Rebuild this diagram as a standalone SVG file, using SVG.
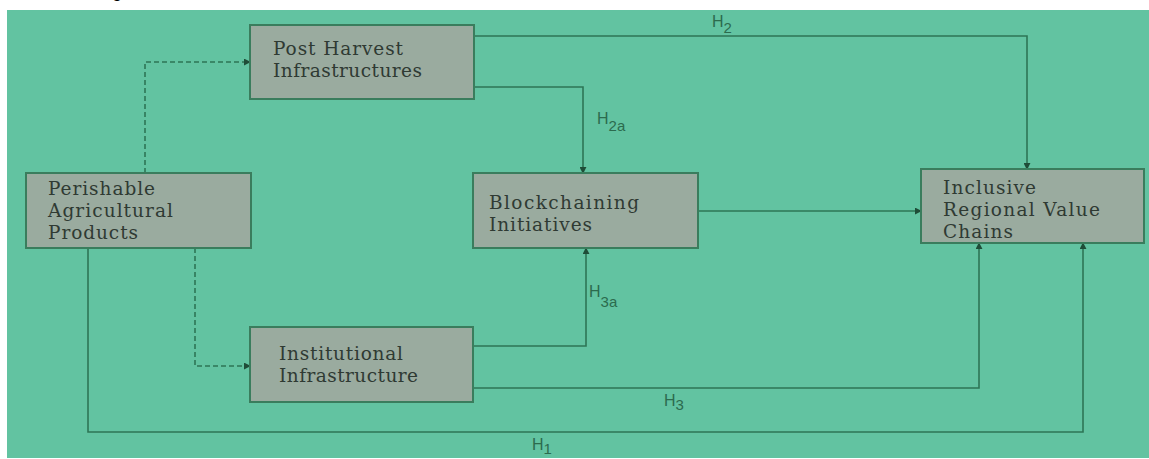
<svg xmlns="http://www.w3.org/2000/svg" width="1149" height="459" viewBox="0 0 1149 459">
<style>
.bg{fill:#62c3a1}
.box{fill:#9aab9f;stroke:#3a7d5d;stroke-width:2}
.t{font-family:"DejaVu Serif","Liberation Serif",serif;font-size:18.5px;fill:#2f3a33}
.c{fill:none;stroke:#2e7656;stroke-width:1.6}
.d{fill:none;stroke:#2e7656;stroke-width:1.6;stroke-dasharray:5 3}
.h{font-family:"Liberation Sans",Arial,sans-serif;font-size:16px;fill:#2c6b4e}
.s{font-size:15px}
.cap{font-family:"Liberation Sans",Arial,sans-serif;font-size:18px;fill:#000}
</style>
<defs>
<marker id="ar" viewBox="0 0 8 8" refX="7" refY="4" markerWidth="7" markerHeight="7" markerUnits="userSpaceOnUse" orient="auto">
<path d="M0,0 L8,4 L0,8 z" fill="#1f4d38"/>
</marker>
</defs>
<rect x="0" y="0" width="1149" height="459" fill="#ffffff"/>
<text class="cap" x="112" y="-3">g</text>
<rect class="bg" x="7" y="10" width="1142" height="448"/>
<g id="connectors">
<path class="d" d="M145,173 V62 H250" marker-end="url(#ar)"/>
<path class="d" d="M195,248 V366 H250" marker-end="url(#ar)"/>
<path class="c" d="M474,36 H1027 V169" marker-end="url(#ar)"/>
<path class="c" d="M474,87 H583 V173" marker-end="url(#ar)"/>
<path class="c" d="M698,211 H921" marker-end="url(#ar)"/>
<path class="c" d="M473,346 H586 V248" marker-end="url(#ar)"/>
<path class="c" d="M473,388 H979 V243" marker-end="url(#ar)"/>
<path class="c" d="M88,248 V432 H1083 V243" marker-end="url(#ar)"/>
<text class="h" x="712" y="27">H<tspan class="s" dy="6">2</tspan></text>
<text class="h" x="597" y="124">H<tspan class="s" dy="7">2a</tspan></text>
<text class="h" x="589" y="297">H<tspan class="s" dy="10">3a</tspan></text>
<text class="h" x="664" y="406">H<tspan class="s" dy="4">3</tspan></text>
<text class="h" x="532" y="450">H<tspan class="s" dy="4">1</tspan></text>
</g>
<g id="node-post-harvest">
<rect class="box" x="250" y="25" width="224" height="74"/>
<text class="t" x="273" y="55" textLength="130" lengthAdjust="spacing">Post Harvest</text>
<text class="t" x="273" y="77" textLength="149" lengthAdjust="spacing">Infrastructures</text>
</g>
<g id="node-perishable">
<rect class="box" x="26" y="173" width="225" height="75"/>
<text class="t" x="48" y="195" textLength="107" lengthAdjust="spacing">Perishable</text>
<text class="t" x="48" y="217" textLength="125" lengthAdjust="spacing">Agricultural</text>
<text class="t" x="48" y="239" textLength="90" lengthAdjust="spacing">Products</text>
</g>
<g id="node-blockchaining">
<rect class="box" x="473" y="173" width="225" height="75"/>
<text class="t" x="489" y="209" textLength="150" lengthAdjust="spacing">Blockchaining</text>
<text class="t" x="489" y="231" textLength="103" lengthAdjust="spacing">Initiatives</text>
</g>
<g id="node-inclusive">
<rect class="box" x="921" y="169" width="223" height="74"/>
<text class="t" x="943" y="194" textLength="93" lengthAdjust="spacing">Inclusive</text>
<text class="t" x="943" y="216" textLength="157" lengthAdjust="spacing">Regional Value</text>
<text class="t" x="943" y="238" textLength="70" lengthAdjust="spacing">Chains</text>
</g>
<g id="node-institutional">
<rect class="box" x="250" y="327" width="223" height="75"/>
<text class="t" x="279" y="360" textLength="124" lengthAdjust="spacing">Institutional</text>
<text class="t" x="279" y="382" textLength="139" lengthAdjust="spacing">Infrastructure</text>
</g>
</svg>
